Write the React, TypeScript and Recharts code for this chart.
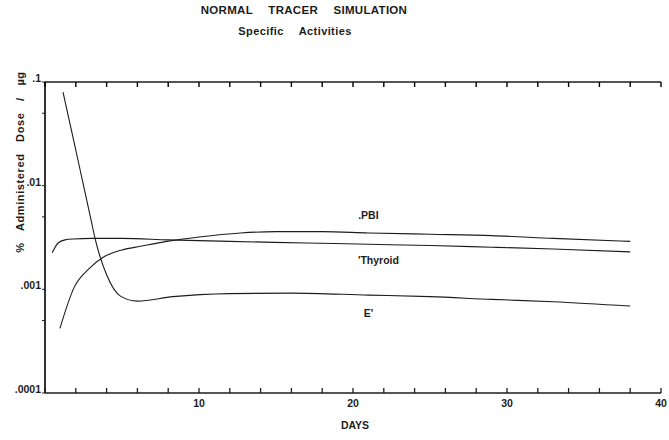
import { LineChart, Line, XAxis, YAxis } from "recharts";

// days on the x axis, tick every 2 days, numbers only every 10
const dayTicks = [0, 2, 4, 6, 8, 10, 12, 14, 16, 18, 20, 22, 24, 26, 28, 30, 32, 34, 36, 38, 40];
const dayLabels = [10, 20, 30, 40];

// log dose axis
const doseTicks = [0.0001, 0.0005, 0.001, 0.005, 0.01, 0.05, 0.1];
const doseLabels: Record<string, string> = {
  "0.1": ".1",
  "0.01": ".01",
  "0.001": ".001",
  "0.0001": ".0001",
};

// PBI
const pbiDays = [0.97, 1.9, 2.9, 3.8, 5, 6.2, 7.9, 10, 12.7, 15, 18, 21, 25, 29, 33, 38];
const pbiValues = [0.00042, 0.00105, 0.0016, 0.00205, 0.0024, 0.0026, 0.0029, 0.0032, 0.0035, 0.0036, 0.0036, 0.0035, 0.0034, 0.0033, 0.0031, 0.0029];

// Thyroid
const thyroidDays = [0.47, 0.85, 1.3, 1.85, 3, 5, 8, 12, 17, 21, 25, 29, 33, 38];
const thyroidValues = [0.00225, 0.0028, 0.003, 0.00306, 0.0031, 0.0031, 0.003, 0.0029, 0.0028, 0.00272, 0.00265, 0.00255, 0.00245, 0.0023];

// E'
const eDays = [1.17, 2, 3, 3.25, 4, 4.9, 6, 8.3, 12, 16, 21, 25, 29, 33, 38];
const eValues = [0.08, 0.022, 0.0046, 0.0031, 0.00138, 0.00086, 0.00077, 0.00085, 0.00091, 0.00092, 0.00088, 0.00085, 0.0008, 0.00076, 0.00069];

const toRows = (days: number[], values: number[]) =>
  days.map((day, i) => ({ day, value: values[i] }));

const pbiData = toRows(pbiDays, pbiValues);
const thyroidData = toRows(thyroidDays, thyroidValues);
const eData = toRows(eDays, eValues);

const FONT = "'Liberation Sans', Arial, sans-serif";
const INK = "#1c1c1c";
const TICK_GAP = 6;

const CHART_H = 440;
const MARGIN_TOP = 72;
const TOP_AXIS_H = 10;
const BOTTOM_AXIS_H = 47;
const PLOT_H = CHART_H - MARGIN_TOP - TOP_AXIS_H - BOTTOM_AXIS_H;

const seriesLabel = (text: string, atDay: number, days: number[], dx: number, dy: number) => {
  const idx = days.indexOf(atDay);
  return (props: any) => {
    if (props.index !== idx) return null;
    return (
      <text
        key={text}
        x={props.x + dx}
        y={props.y + dy}
        textAnchor="middle"
        dominantBaseline="central"
        fontFamily={FONT}
        fontWeight="bold"
        fontSize={10.5}
        fill={INK}
      >
        {text}
      </text>
    );
  };
};

// day ticks: up from the bottom axis, down from the top frame, numbers every 10 days
const DayTick = (props: any) => {
  const v = props.payload.value;
  const axisY = props.y - TICK_GAP;
  const topY = axisY - PLOT_H;
  return (
    <g>
      <line x1={props.x} x2={props.x} y1={axisY} y2={axisY - 5} stroke={INK} strokeWidth={1.3} />
      <line x1={props.x} x2={props.x} y1={topY} y2={topY + 5} stroke="#000" strokeWidth={1.4} />
      {dayLabels.includes(v) && (
        <text x={props.x} y={axisY + 14} textAnchor="middle" fontFamily={FONT} fontWeight="bold" fontSize={10.5} fill={INK}>
          {v}
        </text>
      )}
    </g>
  );
};

const DoseTick = (props: any) => {
  const label = doseLabels[String(props.payload.value)];
  if (!label) return <g />;
  return (
    <text x={props.x} y={props.y} textAnchor="end" fontFamily={FONT} fontWeight="bold" fontSize={10.5} fill={INK}>
      {label}
    </text>
  );
};

export default function App() {
  return (
    <div style={{ position: "absolute", left: 0, top: 0, width: 669, height: CHART_H, background: "#fff", fontFamily: FONT, color: INK }}>
      <div style={{ position: "absolute", left: 0, width: 608, top: 4, textAlign: "center", fontWeight: "bold", fontSize: 11.5, wordSpacing: 12, letterSpacing: 0.3 }}>
        NORMAL TRACER SIMULATION
      </div>
      <div style={{ position: "absolute", left: 0, width: 590, top: 25, textAlign: "center", fontWeight: "bold", fontSize: 11, wordSpacing: 12, letterSpacing: 0.4 }}>
        Specific Activities
      </div>
      <div
        style={{
          position: "absolute",
          left: 20,
          top: 162,
          transform: "translate(-50%, -50%) rotate(-90deg)",
          whiteSpace: "nowrap",
          fontWeight: "bold",
          fontSize: 11,
          wordSpacing: 8,
          letterSpacing: 0.6,
        }}
      >
        % Administered Dose / µg
      </div>
      <div style={{ position: "absolute", left: 355, top: 425, transform: "translate(-50%, -50%)", fontWeight: "bold", fontSize: 10.5 }}>
        DAYS
      </div>

      <LineChart width={669} height={CHART_H} margin={{ top: MARGIN_TOP, right: 8, bottom: 0, left: 0 }}>
        <XAxis
          xAxisId="top"
          orientation="top"
          type="number"
          dataKey="day"
          domain={[0, 40]}
          ticks={dayTicks}
          height={TOP_AXIS_H}
          tick={false}
          tickLine={false}
          axisLine={{ stroke: INK, strokeWidth: 1.5 }}
        />
        <XAxis
          type="number"
          dataKey="day"
          domain={[0, 40]}
          ticks={dayTicks}
          height={BOTTOM_AXIS_H}
          tickSize={0}
          tickMargin={TICK_GAP}
          tickLine={false}
          tick={<DayTick />}
          axisLine={{ stroke: INK, strokeWidth: 1.5 }}
          interval={0}
        />
        <YAxis
          type="number"
          scale="log"
          domain={[0.0001, 0.1]}
          allowDataOverflow
          ticks={doseTicks}
          width={45}
          tickSize={3}
          tickMargin={1}
          tick={<DoseTick />}
          tickLine={{ stroke: INK }}
          axisLine={{ stroke: INK, strokeWidth: 1.8 }}
          interval={0}
        />
        <Line
          data={pbiData}
          dataKey="value"
          type="monotone"
          stroke={INK}
          strokeWidth={1.1}
          dot={false}
          isAnimationActive={false}
          label={seriesLabel(".PBI", 21, pbiDays, 0, -18)}
        />
        <Line
          data={thyroidData}
          dataKey="value"
          type="monotone"
          stroke={INK}
          strokeWidth={1.1}
          dot={false}
          isAnimationActive={false}
          label={seriesLabel("'Thyroid", 21, thyroidDays, 10, 16)}
        />
        <Line
          data={eData}
          dataKey="value"
          type="monotone"
          stroke={INK}
          strokeWidth={1.1}
          dot={false}
          isAnimationActive={false}
          label={seriesLabel("E'", 21, eDays, 0, 18)}
        />
      </LineChart>
    </div>
  );
}
